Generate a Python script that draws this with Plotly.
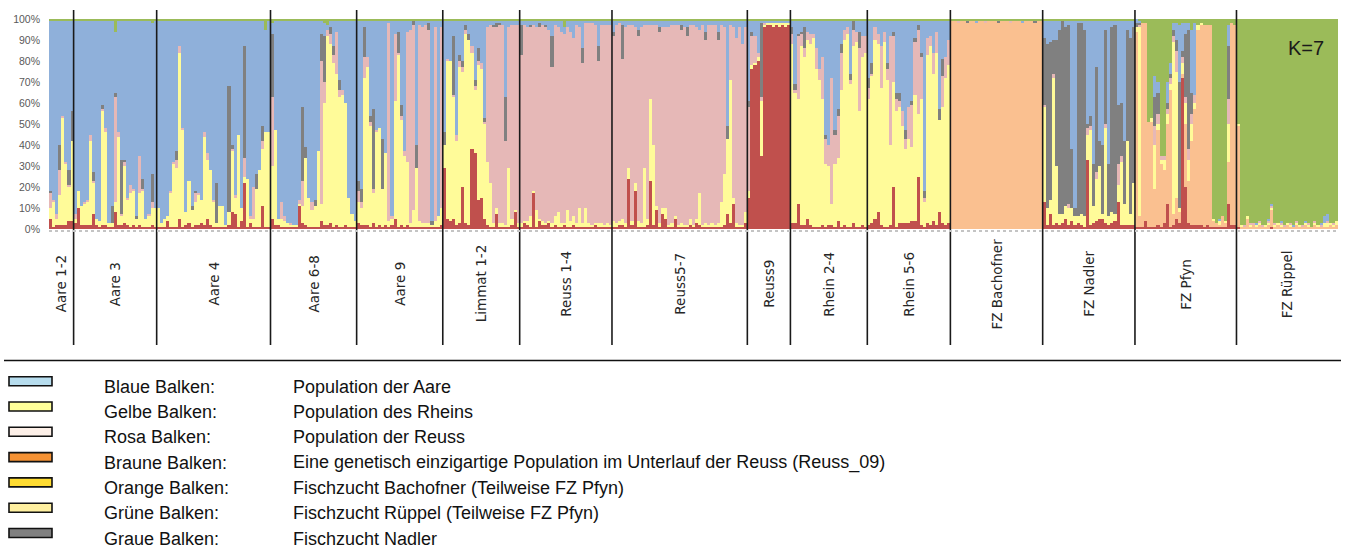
import plotly.graph_objects as go

# ---------------------------------------------------------------------------
# DATA  (per individual: red/brown, orange, yellow, pink, gray, blue, green)  in %
# ---------------------------------------------------------------------------
COMPONENTS = ["Reuss_09", "Bachofner", "Rhein", "Reuss", "Nadler", "Aare", "Rüppel"]
BAR_COLORS = ["rgba(192,80,77,0.999)", "rgba(250,192,144,0.999)", "rgba(255,251,153,0.999)",
              "rgba(230,184,183,0.999)", "rgba(128,128,128,0.999)", "rgba(143,176,218,0.999)",
              "rgba(155,187,89,0.999)"]

POPULATIONS = ["Aare 1-2", "Aare 3", "Aare 4", "Aare 6-8", "Aare 9", "Limmat 1-2", "Reuss 1-4",
               "Reuss5-7", "Reuss9", "Rhein 2-4", "Rhein 5-6", "FZ Bachofner", "FZ Nadler",
               "FZ Pfyn", "FZ Rüppel"]

AARE_1_2 = [(5,0,5,7,1,81,1),(1,0,12,1,0,85,1),(2,0,3,2,0,92,1),(2,0,14,12,12,59,1),
            (2,0,51,1,0,45,1),(2,0,29,1,0,67,1),(4,0,16,1,7,71,1),(4,0,38,0,14,43,1)]

AARE_3 = [(3,0,2,2,0,92,1),(10,0,8,0,0,81,1),(2,0,9,0,0,88,1),(2,0,10,1,0,86,1),(2,0,11,1,0,85,1),
          (2,0,40,3,0,54,1),(7,0,15,1,4,72,1),(2,0,3,0,0,94,1),(1,0,3,0,0,95,1),(2,0,54,1,2,40,1),
          (2,0,44,2,0,51,1),(1,0,2,0,0,96,1),(1,0,2,0,8,88,1),(8,0,5,50,2,29,6),(2,0,42,2,0,53,1),
          (2,0,4,1,26,66,1),(3,0,27,2,1,66,1),(2,0,12,1,0,84,1),(1,0,16,4,0,78,1),(2,0,16,1,0,80,1),
          (1,0,4,0,1,93,1),(2,0,15,18,0,64,1),(1,0,17,1,5,75,1),(1,0,4,0,0,94,1),(1,0,5,1,0,92,1),
          (2,0,8,3,13,72,2),(1,0,9,0,0,89,1)]

AARE_4 = [(1,0,9,0,0,89,1),(1,0,2,0,0,96,1),(1,0,4,0,0,94,1),(4,0,2,0,0,93,1),(1,0,16,1,0,81,1),
          (1,0,30,1,0,67,1),(1,0,28,4,4,62,1),(5,0,79,3,0,12,1),(1,0,46,1,0,51,1),(2,0,6,0,0,91,1),
          (3,0,20,0,0,76,1),(1,0,8,0,2,88,1),(2,0,11,4,1,81,1),(2,0,14,1,0,82,1),(3,0,11,0,0,85,1),
          (2,0,42,2,0,53,1),(5,0,28,3,0,63,1),(2,0,26,0,0,71,1),(1,0,12,1,0,85,1),(1,0,2,0,19,77,1),
          (1,0,10,0,0,88,1),(1,0,10,0,0,88,1),(1,0,1,0,0,97,1),(2,0,6,0,60,31,1),(8,0,29,1,2,59,1),
          (7,0,8,1,0,83,1),(1,0,44,0,0,54,1),(4,0,6,0,0,89,1),(22,0,3,9,53,12,1),(1,0,23,0,0,75,1),
          (3,0,2,1,0,93,1),(1,0,4,15,0,79,1),(1,0,18,0,7,73,1),(1,0,27,0,0,71,1),(11,0,27,4,7,50,1),
          (1,0,45,0,0,49,5),(1,0,45,0,0,53,1)]

AARE_6_8 = [(5,0,25,33,30,5,2),(2,0,45,0,0,52,1),(2,0,3,0,0,94,1),(1,0,4,8,0,86,1),(1,0,3,2,0,93,1),
            (1,0,2,0,0,96,1),(1,0,1,1,0,96,1),(1,0,1,0,0,97,1),(1,0,1,0,0,97,1),(11,0,1,2,0,85,1),
            (3,0,8,12,35,41,1),(2,0,32,0,5,60,1),(1,0,14,0,0,84,1),(1,0,8,4,0,86,1),(1,0,10,0,3,85,1),
            (1,0,36,0,0,62,1),(4,0,8,68,13,6,1),(2,0,58,10,22,6,2),(2,0,90,3,0,2,3),(3,0,85,5,3,3,1),
            (1,0,78,4,4,12,1),(2,0,72,20,0,5,1),(1,0,62,3,5,28,1),(1,0,63,2,0,33,1),(2,0,58,0,0,39,1),
            (1,0,14,0,0,84,1),(1,0,6,0,0,92,1),(1,0,3,0,0,95,1)]

AARE_9 = [(3,0,10,5,5,76,1),(2,0,8,3,6,80,1),(2,0,70,10,14,3,1),(2,0,75,5,0,17,1),(1,0,48,2,3,45,1),
          (3,0,14,2,38,42,1),(1,0,45,1,0,52,1),(2,0,46,0,0,51,1),(1,0,18,0,24,56,1),(2,0,34,0,0,63,1),
          (1,0,3,94,0,1,1),(2,0,3,1,0,93,1),(5,0,56,32,0,6,1),(1,0,82,1,10,5,1),(2,0,50,2,5,40,1),
          (1,0,34,2,0,62,1),(2,0,30,62,0,5,1),(1,0,2,92,0,4,1),(1,0,8,88,2,0,1),(1,0,28,0,11,59,1),
          (1,0,3,93,0,2,1),(1,0,2,93,0,3,1),(1,0,2,94,0,2,1),(1,0,2,92,3,1,1),(1,0,1,0,2,95,1),
          (1,0,3,92,0,3,1),(1,0,5,0,0,93,1),(2,0,8,86,0,3,1)]

LIMMAT_1_2 = [(29,0,11,0,6,53,1),(5,0,75,1,0,18,1),(4,0,76,0,0,19,1),(5,0,58,1,28,7,1),(2,0,40,3,0,54,1),
              (3,0,74,3,3,16,1),(20,0,55,2,3,19,1),(3,0,90,2,2,2,1),(2,0,88,0,3,6,1),(38,0,46,3,0,12,1),
              (36,0,30,2,3,28,1),(14,0,64,2,6,13,1),(15,0,61,3,0,20,1),(5,0,45,1,2,46,1),(2,0,30,64,0,3,1),
              (1,0,21,75,0,2,1),(1,0,2,93,1,2,1),(7,0,3,86,2,1,1),(1,0,2,94,1,1,1),(1,0,2,94,0,2,1),
              (1,0,1,40,21,36,1),(1,0,28,67,0,3,1),(2,0,3,92,0,2,1),(8,0,1,88,0,2,1),(1,0,2,94,0,2,1)]

REUSS_1_4 = [(1,0,2,80,14,2,1),(3,0,1,93,0,2,1),(2,0,2,92,0,3,1),(1,0,5,90,1,2,1),(17,0,1,79,0,2,1),
             (1,0,8,87,0,3,1),(4,0,1,91,2,1,1),(2,0,2,93,0,2,1),(2,0,1,93,1,2,1),(3,0,1,91,0,4,1),
             (1,0,2,74,15,7,1),(2,0,4,91,0,2,1),(1,0,7,88,0,3,1),(1,0,2,91,0,5,1),(2,0,1,90,0,3,4),
             (1,0,8,87,0,3,1),(1,0,3,90,0,5,1),(2,0,4,85,0,8,1),(1,0,2,94,0,2,1),(1,0,9,86,0,3,1),
             (1,0,2,76,7,13,1),(1,0,9,88,0,1,1),(1,0,2,95,0,1,1),(1,0,1,96,0,1,1),(2,0,1,94,0,2,1),
             (1,0,2,77,7,12,1),(1,0,2,94,0,2,1),(1,0,1,95,0,2,1),(1,0,2,94,0,2,1),(1,0,1,95,0,2,1)]

REUSS_5_7 = [(1,0,3,88,2,5,1),(1,0,2,94,0,2,1),(2,0,2,94,0,1,1),(2,0,3,76,16,2,1),(1,0,2,93,0,3,1),
             (24,0,5,68,0,2,1),(2,0,2,93,0,2,1),(18,0,4,74,0,3,1),(1,0,3,88,3,4,1),(1,0,2,93,0,3,1),
             (1,0,28,68,0,2,1),(2,0,3,92,0,2,1),(23,0,39,35,0,2,1),(2,0,38,57,0,2,1),(9,0,2,86,0,2,1),
             (1,0,2,91,2,3,1),(7,0,3,86,0,3,1),(5,0,5,86,0,3,1),(1,0,1,94,0,3,1),(1,0,2,94,0,2,1),
             (5,0,1,91,0,2,1),(1,0,1,95,0,2,1),(1,0,2,92,2,2,1),(1,0,1,94,0,3,1),(1,0,1,90,4,3,1),
             (2,0,3,92,0,2,1),(1,0,1,95,0,2,1),(3,0,2,91,0,3,1),(2,0,15,78,0,4,1),(1,0,1,95,0,2,1),
             (1,0,2,87,4,5,1),(1,0,1,95,0,2,1),(1,0,2,94,0,2,1),(1,0,1,95,0,2,1),(1,0,2,87,4,5,1),
             (1,0,12,84,0,2,1),(2,0,24,70,0,3,1),(7,0,36,0,6,50,1),(3,0,68,26,0,2,1),(12,0,3,81,0,3,1),
             (1,0,2,88,0,8,1),(1,0,1,94,0,3,1),(1,0,1,86,0,11,1),(3,0,5,88,0,3,1)]

REUSS_9 = [(15,0,3,40,3,38,1),(76,0,2,14,2,5,1),(78,0,1,13,0,7,1),(80,0,2,2,0,15,1),(35,0,26,2,35,1,1),
           (96,0,1,1,0,1,1),(97,0,1,0,0,1,1),(97,0,1,0,0,1,1),(96,0,2,0,0,1,1),(97,0,1,0,0,1,1),
           (96,0,2,0,0,1,1),(97,0,1,0,0,1,1),(96,0,2,0,0,1,1),(97,0,1,0,0,1,1)]

RHEIN_2_4 = [(3,0,85,5,3,3,1),(3,0,62,1,3,30,1),(12,0,50,30,1,6,1),(2,0,85,6,1,5,1),(2,0,80,4,10,3,1),
             (5,0,85,4,0,5,1),(2,0,86,5,0,6,1),(1,0,90,2,0,6,1),(1,0,75,10,0,13,1),(1,0,70,5,0,23,1),
             (2,0,60,20,0,17,1),(1,0,30,12,2,54,1),(2,0,28,10,0,59,1),(2,0,10,60,0,27,1),(1,0,30,14,2,52,1),
             (4,0,30,20,3,42,1),(1,0,65,18,4,11,1),(2,0,88,5,0,4,1),(1,0,92,3,0,3,1),(1,0,68,2,3,25,1),
             (3,0,84,8,4,0,1),(1,0,88,5,0,5,1),(1,0,55,30,8,5,1),(2,0,80,10,0,7,1),(1,0,83,8,0,7,1)]

RHEIN_5_6 = [(2,0,60,5,5,27,1),(3,0,70,1,5,20,1),(5,0,85,6,0,3,1),(8,0,80,5,0,6,1),(2,0,65,20,0,12,1),
             (1,0,88,5,0,5,1),(1,0,70,5,3,20,1),(2,0,38,52,0,7,1),(20,0,50,22,2,5,1),(1,0,55,6,3,34,1),
             (3,0,55,3,4,34,1),(3,0,46,7,0,43,1),(3,0,35,5,4,52,1),(3,0,40,15,0,41,1),(4,0,35,20,2,38,1),
             (4,0,60,25,2,8,1),(25,0,30,40,2,2,1),(2,0,60,20,2,15,1),(1,0,12,2,3,81,1),(3,0,80,8,0,8,1),
             (2,0,85,5,0,7,1),(4,0,70,10,0,15,1),(2,0,82,10,0,5,1),(8,0,44,0,5,42,1),(3,0,55,15,8,18,1),
             (2,0,70,10,0,17,1),(3,0,75,12,0,9,1)]

FZ_BACHOFNER = [(0,99,0,0,0,0,1),(0,99,0,0,0,0,1),(0,98,0,1,0,0,1),(0,99,0,0,0,0,1),(0,99,0,0,0,0,1),
                (0,98,0,0,1,0,1),(0,99,0,0,0,0,1),(0,99,0,0,0,0,1),(0,98,0,0,0,1,1),(0,99,0,0,0,0,1),
                (0,99,0,0,0,0,1),(0,98,0,1,0,0,1),(0,99,0,0,0,0,1),(0,99,0,0,0,0,1),(0,99,0,0,0,0,1),
                (0,98,0,0,1,0,1),(0,99,0,0,0,0,1),(0,99,0,0,0,0,1),(0,99,0,0,0,0,1),(0,98,0,1,0,0,1),
                (0,99,0,0,0,0,1),(0,99,0,0,0,0,1),(0,99,0,0,0,0,1),(0,98,0,0,0,1,1),(0,99,0,0,0,0,1),
                (0,99,0,0,0,0,1),(0,99,0,0,0,0,1),(0,98,0,0,1,0,1),(0,99,0,0,0,0,1),(0,99,0,0,0,0,1)]

FZ_NADLER = [(13,0,45,1,32,8,1),(2,0,8,0,78,11,1),(7,0,7,0,75,10,1),(2,0,70,2,16,9,1),(3,0,27,0,60,9,1),
             (2,0,5,0,88,4,1),(3,0,4,0,92,0,1),(5,0,6,0,85,3,1),(2,0,8,2,85,2,1),(4,0,6,0,28,61,1),
             (2,0,4,0,4,89,1),(3,0,3,0,92,1,1),(2,0,5,0,91,1,1),(1,0,5,0,89,4,1),(33,0,12,3,2,49,1),
             (2,0,45,2,5,45,1),(3,0,8,0,20,68,1),(4,0,20,3,50,22,1),(5,0,25,0,12,57,1),(5,0,2,0,33,59,1),
             (3,0,45,2,45,4,1),(2,0,4,0,25,68,1),(3,0,5,0,88,3,1),(4,0,3,0,90,2,1),(13,0,8,10,28,40,1),
             (2,0,30,3,25,39,1),(2,0,10,0,30,57,1),(2,0,40,0,53,4,1),(2,0,5,0,84,8,1),(2,0,20,0,74,3,1)]

FZ_PFYN = [(1,93,2,0,2,2,0),(1,5,90,1,1,1,1),(1,97,0,0,0,0,2),(4,94,0,0,0,0,2),(1,50,0,0,0,0,49),
           (1,50,2,0,0,0,47),(1,18,21,9,14,10,27),(2,45,3,5,10,5,30),(1,30,2,2,0,0,65),(3,25,5,2,0,0,65),
           (12,38,5,2,3,10,30),(1,65,3,3,2,5,21),(2,5,82,3,3,3,2),(5,10,60,10,5,8,2),(3,5,2,0,60,27,3),
           (72,2,5,3,3,13,2),(20,30,10,3,30,5,2),(3,20,10,5,57,3,2),(2,40,8,5,10,30,5),(2,55,3,4,0,34,2),
           (2,93,2,0,0,0,3),(2,95,1,0,0,0,2),(1,96,0,0,0,0,3),(2,95,0,0,0,0,3),(1,96,0,0,0,0,3),
           (1,3,1,0,0,0,95),(1,2,0,0,0,0,97),(1,1,2,0,0,1,95),(1,5,0,0,0,0,94),(1,2,1,0,0,0,96),
           (12,20,18,12,25,10,3),(2,96,0,0,0,0,2),(2,95,0,0,0,0,3)]

FZ_RUEPPEL = [(1,48,1,0,0,0,50),(0,1,1,0,0,0,98),(0,1,0,1,0,0,98),(0,5,1,0,0,0,94),(0,1,1,1,0,0,97),
              (0,2,0,1,0,0,97),(0,1,1,0,0,1,97),(0,2,1,1,0,0,96),(0,1,0,1,0,0,98),(0,1,1,0,0,0,98),
              (0,2,1,1,0,1,95),(1,8,1,1,0,1,88),(0,1,1,1,0,0,97),(0,2,1,0,0,0,97),(0,1,1,1,0,1,96),
              (0,1,0,1,0,0,98),(0,2,1,0,0,0,97),(0,1,1,1,0,0,97),(0,1,0,0,0,1,98),(0,2,1,1,0,0,96),
              (0,1,1,0,0,0,98),(0,1,0,1,0,0,98),(0,2,1,0,0,1,96),(0,1,1,1,0,0,97),(0,1,0,0,0,0,99),
              (0,2,1,1,0,0,96),(0,1,1,0,0,0,98),(0,1,0,1,0,1,97),(0,1,2,0,0,3,94),(0,1,2,1,0,3,93),
              (0,2,1,0,0,0,97),(0,1,1,1,0,0,97),(0,2,2,0,0,0,96)]

POP_DATA = [AARE_1_2, AARE_3, AARE_4, AARE_6_8, AARE_9, LIMMAT_1_2, REUSS_1_4, REUSS_5_7,
            REUSS_9, RHEIN_2_4, RHEIN_5_6, FZ_BACHOFNER, FZ_NADLER, FZ_PFYN, FZ_RUEPPEL]

Y_TICKS = [0, 10, 20, 30, 40, 50, 60, 70, 80, 90, 100]
Y_TICK_LABELS = ["0%", "10%", "20%", "30%", "40%", "50%", "60%", "70%", "80%", "90%", "100%"]

LEGEND_LABELS = ["Blaue Balken:", "Gelbe Balken:", "Rosa Balken:", "Braune Balken:",
                 "Orange Balken:", "Grüne Balken:", "Graue Balken:"]
LEGEND_TEXTS = ["Population der Aare", "Population des Rheins", "Population der Reuss",
                "Eine genetisch einzigartige Population im Unterlauf der Reuss (Reuss_09)",
                "Fischzucht Bachofner (Teilweise FZ Pfyn)", "Fischzucht Rüppel (Teilweise FZ Pfyn)",
                "Fischzucht Nadler"]
LEGEND_SWATCHES = ["#B7DDEE", "#FFFF99", "#FDF0E8", "#F59234", "#FFDC32", "#FFF0A0", "#808080"]

# ---------------------------------------------------------------------------
W, H = 1345, 551
ML, MR, MT, MB = 49, 7, 19, 322
PW, PH = W - ML - MR, H - MT - MB


def px(xp):
    return (xp - ML) / PW


def py(yp):
    return (H - MB - yp) / PH


rows = [r for pop in POP_DATA for r in pop]
totals = [sum(r) for r in rows]
xs = list(range(len(rows)))

fig = go.Figure()
for k, name in enumerate(COMPONENTS):
    fig.add_trace(go.Bar(
        x=xs, y=[r[k] / t * 100 for r, t in zip(rows, totals)], name=name,
        marker=dict(color=BAR_COLORS[k], line=dict(width=0)), showlegend=False,
        hoverinfo="skip"))

shapes = []
annotations = []
start = 0
for i, (name, pop) in enumerate(zip(POPULATIONS, POP_DATA)):
    n = len(pop)
    annotations.append(dict(x=start + n / 2 - 0.5, xref="x", y=py(284), yref="paper",
                            text=name, textangle=-90, showarrow=False,
                            font=dict(family="DejaVu Sans", size=13.5, color="#262626"),
                            xanchor="center", yanchor="middle"))
    if i > 0:
        shapes.append(dict(type="line", xref="x", yref="paper", x0=start - 0.5, x1=start - 0.5,
                           y0=py(345), y1=py(10), line=dict(color="#1a1a1a", width=1.6)))
    start += n

# dotted base line
shapes.append(dict(type="line", xref="paper", yref="paper", x0=0, x1=1, y0=py(231), y1=py(231),
                   line=dict(color="#c4c4c4", width=2, dash="dot")))
# separator above the key
shapes.append(dict(type="line", xref="paper", yref="paper", x0=px(4), x1=px(1341),
                   y0=py(360.5), y1=py(360.5), line=dict(color="#111111", width=1.5)))

for i, (lab, txt, col) in enumerate(zip(LEGEND_LABELS, LEGEND_TEXTS, LEGEND_SWATCHES)):
    yc = 386.7 + 25.3 * i
    shapes.append(dict(type="rect", xref="paper", yref="paper", x0=px(9), x1=px(52),
                       y0=py(yc - 1), y1=py(yc - 10), fillcolor=col,
                       line=dict(color="#111111", width=1.6)))
    annotations.append(dict(x=px(102), xref="paper", y=py(yc), yref="paper", text=lab,
                            showarrow=False, xanchor="left", yanchor="middle",
                            font=dict(family="Liberation Sans, Arial", size=18, color="#111111")))
    annotations.append(dict(x=px(291), xref="paper", y=py(yc), yref="paper", text=txt,
                            showarrow=False, xanchor="left", yanchor="middle",
                            font=dict(family="Liberation Sans, Arial", size=18, color="#111111")))

annotations.append(dict(x=px(1306), xref="paper", y=py(48), yref="paper", text="K=7",
                        showarrow=False, xanchor="center", yanchor="middle",
                        font=dict(family="Liberation Sans, Arial", size=20, color="#1a1a1a")))

fig.update_layout(
    width=W, height=H, barmode="stack", bargap=0,
    margin=dict(l=ML, r=MR, t=MT, b=MB, pad=0),
    paper_bgcolor="white", plot_bgcolor="white",
    shapes=shapes, annotations=annotations, showlegend=False,
    xaxis=dict(range=[-0.5, len(rows) - 0.5], showticklabels=False, showgrid=False,
               zeroline=False, showline=False, ticks="", fixedrange=True),
    yaxis=dict(range=[0, 100], tickmode="array", tickvals=Y_TICKS, ticktext=Y_TICK_LABELS,
               showgrid=False, zeroline=False, showline=False, ticks="", ticklabelstandoff=8,
               tickfont=dict(family="Liberation Sans, Arial", size=10.5, color="#595959"),
               fixedrange=True),
)

fig.write_html("out.html")
